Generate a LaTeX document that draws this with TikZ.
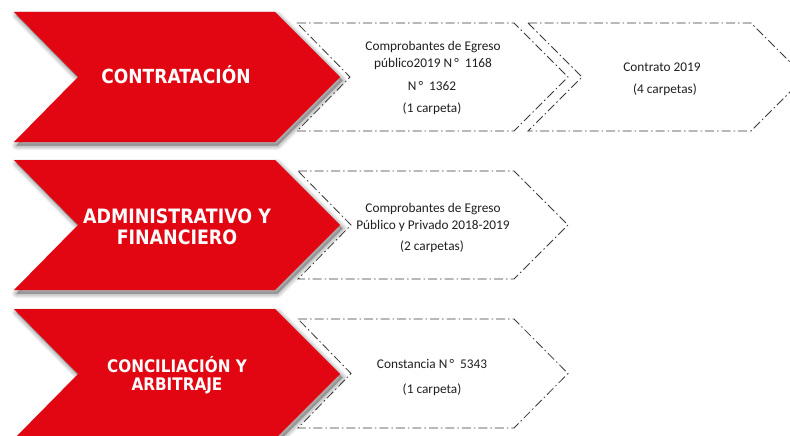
\documentclass[tikz,border=0pt]{standalone}
\usepackage{fontspec}
\setmainfont{Carlito}
\newfontfamily\headfont{DejaVu Sans}[FakeStretch=0.88]
\definecolor{chevred}{HTML}{E20613}
\definecolor{dashgray}{HTML}{3A3A3A}
\begin{document}
\begin{tikzpicture}[x=1pt,y=-1pt,
  dashchev/.style={draw=dashgray, line width=0.8pt,
    dash pattern=on 9pt off 3pt on 1.5pt off 3pt, line join=miter},
  headtxt/.style={text=white, anchor=base, inner sep=0pt},
  bodytxt/.style={text=black!88, font=\fontsize{13.3}{16}\selectfont, anchor=base, inner sep=0pt},
  pics/redchev/.style={code={
    \foreach \w in {9,7,5,3,1}{
      \path[fill=black, draw=black, line width=\w pt, opacity=0.055, line join=round,
            shift={(2.5,3.5)}]
        (14,-65) -- (275,-65) -- (340,0) -- (275,65) -- (14,65) -- (78,0) -- cycle;
    }
    \path[fill=chevred] (14,-65) -- (275,-65) -- (340,0) -- (275,65) -- (14,65) -- (78,0) -- cycle;
  }}]
\useasboundingbox (0,0) rectangle (790,436);
\fill[white] (0,0) rectangle (790,436);
\clip (0,0) rectangle (790,436);

% dashed chevrons
\draw[dashchev] (297,23) -- (514,23) -- (568,77) -- (514,131) -- (297,131) -- (350,77) -- cycle;
\draw[dashchev] (528,23) -- (751,23) -- (805,77) -- (751,131) -- (528,131) -- (582,77) -- cycle;
\draw[dashchev] (298,171) -- (514,171) -- (568,225) -- (514,279) -- (298,279) -- (351,225) -- cycle;
\draw[dashchev] (298,319) -- (514,319) -- (568,373.5) -- (514,428) -- (298,428) -- (351,373.5) -- cycle;

% red chevrons
\pic at (0,77) {redchev};
\pic at (0,225) {redchev};
\pic at (0,374) {redchev};

% red labels
\node[headtxt, font=\headfont\bfseries\fontsize{19.4}{22}\selectfont] (h1) at (176,83.5) {CONTRATACIÓN};
\node[headtxt, font=\headfont\bfseries\fontsize{19.8}{22}\selectfont] (h2a) at (177,223) {ADMINISTRATIVO Y};
\node[headtxt, font=\headfont\bfseries\fontsize{19.8}{22}\selectfont] (h2b) at (177,244) {FINANCIERO};
\node[headtxt, font=\headfont\bfseries\fontsize{17.3}{20}\selectfont] (h3a) at (177,372) {CONCILIACIÓN Y};
\node[headtxt, font=\headfont\bfseries\fontsize{17.3}{20}\selectfont] (h3b) at (177,390) {ARBITRAJE};

% body texts
\node[bodytxt] (t1a) at (433,51) {Comprobantes de Egreso};
\node[bodytxt] (t1b) at (433,68) {público2019 N\,°\hspace{0.45em}1168};
\node[bodytxt] (t1c) at (432,91) {N\,°\hspace{0.45em}1362};
\node[bodytxt] (t1d) at (432,113) {(1 carpeta)};
\node[bodytxt] (t2a) at (662,71) {Contrato 2019};
\node[bodytxt] (t2b) at (665,93) {(4 carpetas)};
\node[bodytxt] (t3a) at (433,212) {Comprobantes de Egreso};
\node[bodytxt] (t3b) at (433,229) {Público y Privado 2018-2019};
\node[bodytxt] (t3c) at (432,250) {(2 carpetas)};
\node[bodytxt] (t4a) at (432,368) {Constancia N\,°\hspace{0.45em}5343};
\node[bodytxt] (t4b) at (432,393) {(1 carpeta)};
\end{tikzpicture}
\end{document}
